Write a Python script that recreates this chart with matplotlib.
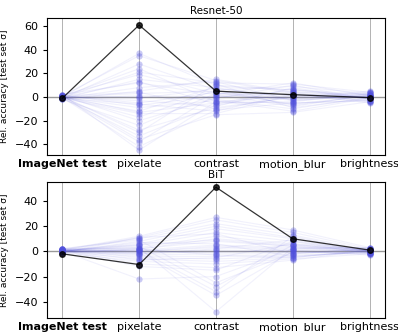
import numpy as np
import matplotlib
matplotlib.use('Agg')
import matplotlib.pyplot as plt

categories = ['ImageNet test', 'pixelate', 'contrast', 'motion_blur', 'brightness']

# Resnet-50: faint per-run lines, one value per category
res_imagenet = [0, 1, -1, 0.5, -0.5, 1.5, -1.5, 0, 2, -2, 1, 0, -1, 0.5, -0.5, 0, 1, -1, 1.5, 0, -0.5, 0.5, -1, 0, 1, -2, 0, 0.5, -1, 1, 0, -0.5, 2, -1]
res_pixelate = [37, 35, 28, 24, 21, 19, 15, 13, 12, 5, 4, 3, 1, 0, -1, -3, -5, -6, -7, -9, -12, -13, -14, -17, -20, -24, -28, -30, -33, -36, -38, -42, -45, 8]
res_contrast = [10, 14, 6, -4, 12, 3, 8, -6, 2, 15, -10, 5, 0, -2, 7, -8, 4, -12, 1, -3, 9, -5, -14, 6, -1, 3, -9, 11, -7, -15, 2, -11, -4, 13]
res_motion = [6, 3, 9, -5, 11, 2, -2, 7, -8, 4, 0, -3, 5, -10, 1, 8, -6, 3, -1, -12, 6, -4, 2, -7, 10, -2, 0, -9, 4, -13, 12, -5, 1, -3]
res_bright = [2, -1, 3, -3, 4, 0, 1, -2, 2, -4, 5, 1, -1, 0, 3, -2, 1, -5, 2, -1, 0, 3, -3, 1, -2, 4, 0, -1, 2, -4, 1, -3, 0, 2]
res_highlight = [-1, 61, 5, 2, -0.5]

# BiT
bit_imagenet = [1, 0.5, 2, -0.5, 0, 1.5, 1, 0, -1, 0.5, 1, 2, 0, -0.5, 1, 0.5, 1.5, 0, -1, 1, 0.5, 0, 2, 1, -0.5, 0.5, 1, 0, 1.5, 0.5, -1, 1, 0, 2]
bit_pixelate = [12, 11, 10, 8, 6, 5, 3, 2, 2, 1, 0, 0, -1, -2, -3, -4, -5, -6, -8, -10, -12, -22, 9, 4, 1, -1, 3, 7, -2, 0, 11, -7, 5, 2]
bit_contrast = [27, 25, 22, 20, 18, 15, 12, 10, 8, 5, 4, 3, 1, 0, -2, -4, -6, -8, -10, -13, -15, -20, -25, -28, -32, -35, -48, 6, 2, -1, 14, -5, 9, -3]
bit_motion = [17, 15, 13, 11, 10, 8, 6, 5, 4, 3, 2, 1, 0, -1, -2, -3, -4, -5, -6, -7, 8, 2, -1, 5, 12, 0, 3, -4, 9, 1, -2, 6, 4, -5]
bit_bright = [3, 2, 1, 0, -1, -2, 2, 1, 0, -1, 3, -3, 1, 0, 2, -1, 0, 1, -2, 1, 0, 2, -1, 1, 0, -2, 3, -1, 0, 1, 2, -1, 0, 1]
bit_highlight = [-2, -10.5, 51, 10, 1]

blue = '#5050dd'


def draw(ax, cols, highlight, title, ylim, yticks):
    data = np.array(cols).T
    x = np.arange(len(categories))
    for v in x:
        ax.axvline(v, color='gray', lw=0.6, alpha=0.7, zorder=0)
    ax.axhline(0, color='gray', lw=1.0, alpha=0.8, zorder=0)
    for row in data:
        ax.plot(x, row, color=blue, lw=0.8, alpha=0.08)
        ax.plot(x, row, 'o', color=blue, ms=4.5, alpha=0.3, mec='none')
    ax.plot(x, highlight, '-o', color='k', lw=0.9, ms=4, alpha=0.8)
    ax.set_xlim(-0.2, 4.2)
    ax.set_ylim(*ylim)
    ax.set_yticks(yticks)
    ax.set_xticks(x)
    ax.set_xticklabels(categories, fontsize=8)
    ax.get_xticklabels()[0].set_fontweight('bold')
    ax.tick_params(axis='y', labelsize=8, length=3)
    ax.tick_params(axis='x', length=0, pad=3)
    ax.set_ylabel('Rel. accuracy [test set σ]', fontsize=6.5)
    ax.set_title(title, fontsize=7.5, pad=3)


fig = plt.figure(figsize=(3.98, 3.33), dpi=100)
ax1 = fig.add_axes([0.118, 0.535, 0.849, 0.411])
ax2 = fig.add_axes([0.118, 0.045, 0.849, 0.408])

draw(ax1, [res_imagenet, res_pixelate, res_contrast, res_motion, res_bright],
     res_highlight, 'Resnet-50', (-49, 67), [-40, -20, 0, 20, 40, 60])
draw(ax2, [bit_imagenet, bit_pixelate, bit_contrast, bit_motion, bit_bright],
     bit_highlight, 'BiT', (-53, 55), [-40, -20, 0, 20, 40])

fig.savefig('out.png', dpi=100)
